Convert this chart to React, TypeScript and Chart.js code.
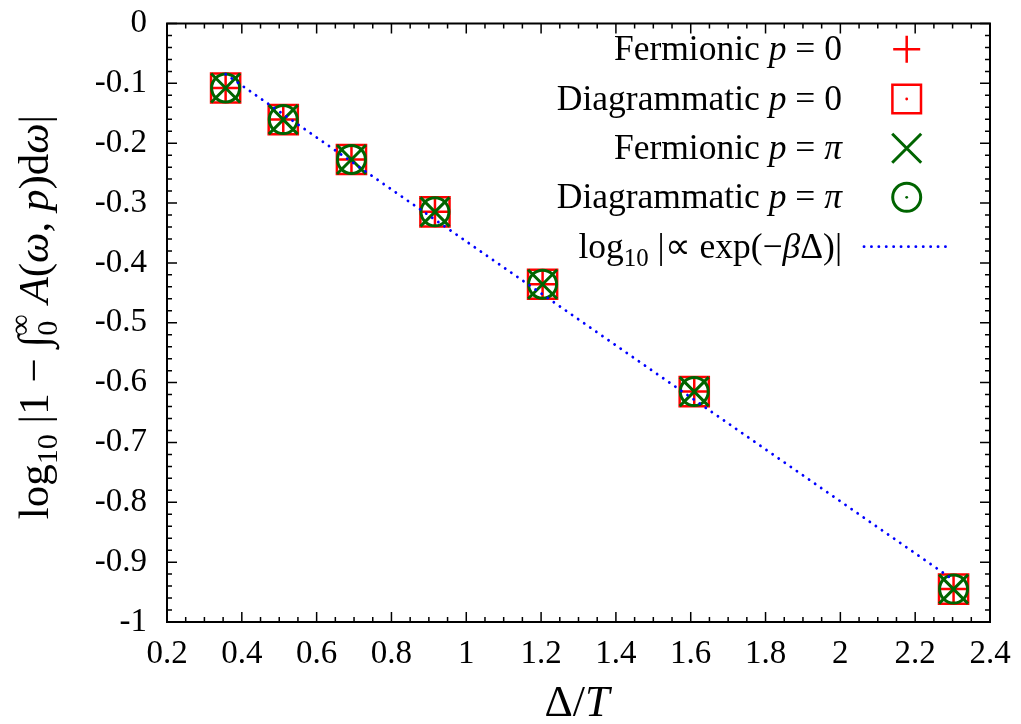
import React, { useEffect, useRef } from 'react';
import { Chart, registerables } from 'chart.js';

Chart.register(...registerables);

const FONT = '"Liberation Serif", "Times New Roman", serif';

// Δ/T values of the data points
const deltaOverT = [0.3567, 0.5108, 0.6931, 0.9163, 1.204, 1.6094, 2.3026];
// log10 |1 - ∫ A dω| for each series
const fermionicP0 = [-0.1078, -0.1606, -0.2272, -0.3147, -0.4356, -0.615, -0.945];
const diagrammaticP0 = [-0.1078, -0.1606, -0.2272, -0.3147, -0.4356, -0.615, -0.945];
const fermionicPi = [-0.1078, -0.1606, -0.2272, -0.3147, -0.4356, -0.615, -0.945];
const diagrammaticPi = [-0.1078, -0.1606, -0.2272, -0.3147, -0.4356, -0.615, -0.945];
// guide line log10|∝ exp(-βΔ)|
const fitDeltaOverT = [0.3567, 2.3026];
const fitLog = [-0.0847, -0.9298];

const X_MIN = 0.2, X_MAX = 2.4, X_STEP = 0.2;
const Y_MIN = -1, Y_MAX = 0, Y_STEP = 0.1;

const RED = '#ff0000';
const GREEN = '#006400';
const BLUE = '#0000ff';

type Seg = { t: string; it?: boolean; sub?: boolean; sup?: boolean; over?: string; gap?: number };

function segFont(s: Seg, size: number) {
  const sz = s.sub || s.sup ? size * 0.7 : size;
  return `${s.it ? 'italic ' : ''}${sz}px ${FONT}`;
}
function segWidth(ctx: CanvasRenderingContext2D, s: Seg, size: number) {
  ctx.font = segFont(s, size);
  let w = ctx.measureText(s.t).width;
  if (s.over) w = Math.max(w, ctx.measureText(s.over).width);
  return w + (s.gap || 0);
}
function drawRich(ctx: CanvasRenderingContext2D, segs: Seg[], x: number, y: number, size: number, align: string) {
  const widths = segs.map((s) => segWidth(ctx, s, size));
  const total = widths.reduce((a, b) => a + b, 0);
  let cx = align === 'right' ? x - total : align === 'center' ? x - total / 2 : x;
  ctx.textBaseline = 'alphabetic';
  ctx.textAlign = 'left';
  segs.forEach((s, i) => {
    ctx.font = segFont(s, size);
    const dy = s.sub ? size * 0.22 : s.sup ? -size * 0.4 : 0;
    ctx.fillText(s.t, cx, y + dy);
    if (s.over) ctx.fillText(s.over, cx, y - size * 0.42);
    cx += widths[i];
  });
}

const fmt = (v: any) => {
  const n = Math.round(Number(v) * 10) / 10;
  return n === 0 ? '0' : String(n);
};

const framePlugin = {
  id: 'frame',
  beforeDatasetsDraw(chart: any) {
    const { ctx, chartArea: a, scales } = chart;
    const x = scales.x, y = scales.y;
    ctx.save();
    ctx.strokeStyle = '#000';
    ctx.lineWidth = 1.5;
    ctx.beginPath();
    for (let i = 0; i <= 44; i++) {
      const v = X_MIN + i * 0.05;
      const px = x.getPixelForValue(v);
      const len = i % 4 === 0 ? 10 : 5;
      ctx.moveTo(px, a.bottom); ctx.lineTo(px, a.bottom - len);
      ctx.moveTo(px, a.top); ctx.lineTo(px, a.top + len);
    }
    for (let i = 0; i <= 50; i++) {
      const v = Y_MIN + i * 0.02;
      const py = y.getPixelForValue(v);
      const len = i % 5 === 0 ? 10 : 5;
      ctx.moveTo(a.left, py); ctx.lineTo(a.left + len, py);
      ctx.moveTo(a.right, py); ctx.lineTo(a.right - len, py);
    }
    ctx.stroke();
    ctx.lineWidth = 2;
    ctx.strokeRect(a.left, a.top, a.right - a.left, a.bottom - a.top);
    ctx.restore();
  },
};

function drawSymbol(ctx: CanvasRenderingContext2D, kind: string, cx: number, cy: number) {
  ctx.save();
  ctx.beginPath();
  if (kind === 'plus') {
    ctx.strokeStyle = RED; ctx.lineWidth = 2.5;
    ctx.moveTo(cx - 13.5, cy); ctx.lineTo(cx + 13.5, cy);
    ctx.moveTo(cx, cy - 13.5); ctx.lineTo(cx, cy + 13.5);
    ctx.stroke();
  } else if (kind === 'square') {
    ctx.strokeStyle = RED; ctx.lineWidth = 2.5;
    ctx.rect(cx - 14.3, cy - 14.3, 28.6, 28.6);
    ctx.stroke();
    ctx.beginPath(); ctx.fillStyle = RED; ctx.arc(cx, cy, 1.4, 0, Math.PI * 2); ctx.fill();
  } else if (kind === 'cross') {
    ctx.strokeStyle = GREEN; ctx.lineWidth = 3;
    ctx.moveTo(cx - 14.5, cy - 14.5); ctx.lineTo(cx + 14.5, cy + 14.5);
    ctx.moveTo(cx + 14.5, cy - 14.5); ctx.lineTo(cx - 14.5, cy + 14.5);
    ctx.stroke();
  } else if (kind === 'circle') {
    ctx.strokeStyle = GREEN; ctx.lineWidth = 3;
    ctx.arc(cx, cy, 14, 0, Math.PI * 2);
    ctx.stroke();
    ctx.beginPath(); ctx.fillStyle = GREEN; ctx.arc(cx, cy, 1.4, 0, Math.PI * 2); ctx.fill();
  } else if (kind === 'line') {
    ctx.strokeStyle = BLUE; ctx.lineWidth = 2.8; ctx.lineCap = 'round';
    ctx.setLineDash([0.1, 7.3]);
    ctx.moveTo(864, cy); ctx.lineTo(947, cy);
    ctx.stroke();
  }
  ctx.restore();
}

const legendEntries: { segs: Seg[]; kind: string }[] = [
  { segs: [{ t: 'Fermionic ' }, { t: 'p', it: true }, { t: ' = 0' }], kind: 'plus' },
  { segs: [{ t: 'Diagrammatic ' }, { t: 'p', it: true }, { t: ' = 0' }], kind: 'square' },
  { segs: [{ t: 'Fermionic ' }, { t: 'p', it: true }, { t: ' = ' }, { t: 'π', it: true }], kind: 'cross' },
  { segs: [{ t: 'Diagrammatic ' }, { t: 'p', it: true }, { t: ' = ' }, { t: 'π', it: true }], kind: 'circle' },
  { segs: [{ t: 'log' }, { t: '10', sub: true }, { t: ' |∝ exp(−' }, { t: 'β', it: true }, { t: 'Δ)|' }], kind: 'line' },
];
const legendRowY = [49.3, 99, 148.3, 197.3, 246.7];

const textPlugin = {
  id: 'texts',
  afterDraw(chart: any) {
    const ctx: CanvasRenderingContext2D = chart.ctx;
    ctx.save();
    ctx.fillStyle = '#000';
    legendEntries.forEach((e, i) => {
      const cy = legendRowY[i];
      ctx.fillStyle = '#000';
      drawRich(ctx, e.segs, 842, cy + 11, 35.5, 'right');
      drawSymbol(ctx, e.kind, 906.7, cy);
    });
    ctx.fillStyle = '#000';
    drawRich(ctx, [{ t: 'Δ/' }, { t: 'T', it: true }], 577, 716, 44, 'center');
    ctx.save();
    ctx.translate(48, 317);
    ctx.rotate(-Math.PI / 2);
    drawRich(
      ctx,
      [
        { t: 'log' }, { t: '10', sub: true }, { t: ' |1 − ' }, { t: '∫' },
        { t: '0', sub: true, over: '∞' }, { t: ' ' }, { t: 'A', it: true }, { t: '(' },
        { t: 'ω', it: true }, { t: ', ' }, { t: 'p', it: true }, { t: ')d' }, { t: 'ω', it: true }, { t: '|' },
      ],
      0, 0, 43, 'center'
    );
    ctx.restore();
    ctx.restore();
  },
};

const toPts = (xs: number[], ys: number[]) => xs.map((x, i) => ({ x, y: ys[i] }));

export default function App() {
  const ref = useRef<HTMLCanvasElement>(null);
  useEffect(() => {
    if (!ref.current) return;
    const chart = new Chart(ref.current, {
      type: 'scatter',
      data: {
        datasets: [
          {
            label: 'log10|∝ exp(−βΔ)|',
            data: toPts(fitDeltaOverT, fitLog),
            showLine: true,
            borderColor: BLUE,
            borderWidth: 2.8,
            borderDash: [0.1, 7.3],
            borderCapStyle: 'round',
            pointRadius: 0,
            order: 0,
          } as any,
          {
            label: 'Diagrammatic p = π',
            data: toPts(deltaOverT, diagrammaticPi),
            pointStyle: 'circle',
            pointRadius: 14,
            pointBorderColor: GREEN,
            pointBackgroundColor: 'rgba(0,0,0,0)',
            pointBorderWidth: 3,
            order: 1,
          },
          {
            label: 'Fermionic p = π',
            data: toPts(deltaOverT, fermionicPi),
            pointStyle: 'crossRot',
            pointRadius: 20.5,
            pointBorderColor: GREEN,
            pointBorderWidth: 3,
            order: 2,
          },
          {
            label: 'Fermionic p = 0',
            data: toPts(deltaOverT, fermionicP0),
            pointStyle: 'cross',
            pointRadius: 13.5,
            pointBorderColor: RED,
            pointBorderWidth: 2.5,
            order: 3,
          },
          {
            label: 'Diagrammatic p = 0',
            data: toPts(deltaOverT, diagrammaticP0),
            pointStyle: 'rect',
            pointRadius: 20.6,
            pointBorderColor: RED,
            pointBackgroundColor: 'rgba(0,0,0,0)',
            pointBorderWidth: 2.5,
            order: 4,
          },
        ],
      },
      options: {
        responsive: false,
        animation: false,
        devicePixelRatio: 1,
        events: [],
        layout: { padding: { top: 16, right: 31, left: 0, bottom: 0 } },
        plugins: { legend: { display: false }, tooltip: { enabled: false }, title: { display: false } },
        scales: {
          x: {
            type: 'linear',
            min: X_MIN,
            max: X_MAX,
            grid: { display: false, drawTicks: false, tickLength: 0 },
            border: { display: false },
            ticks: { stepSize: X_STEP, font: { family: FONT, size: 33 }, color: '#000', padding: 13, maxRotation: 0, callback: fmt },
            afterFit: (s: any) => { s.height = 102; s.paddingLeft = 0; s.paddingRight = 0; },
          },
          y: {
            type: 'linear',
            min: Y_MIN,
            max: Y_MAX,
            grid: { display: false, drawTicks: false, tickLength: 0 },
            border: { display: false },
            ticks: { stepSize: Y_STEP, font: { family: FONT, size: 33 }, color: '#000', padding: 20, callback: fmt },
            afterFit: (s: any) => { s.width = 167; s.paddingTop = 0; s.paddingBottom = 0; },
          },
        },
      },
      plugins: [framePlugin, textPlugin],
    } as any);
    return () => chart.destroy();
  }, []);
  return (
    <div style={{ position: 'absolute', left: 0, top: 0, width: 1021, height: 724, background: '#fff' }}>
      <canvas ref={ref} width={1021} height={724} style={{ display: 'block' }} />
    </div>
  );
}
